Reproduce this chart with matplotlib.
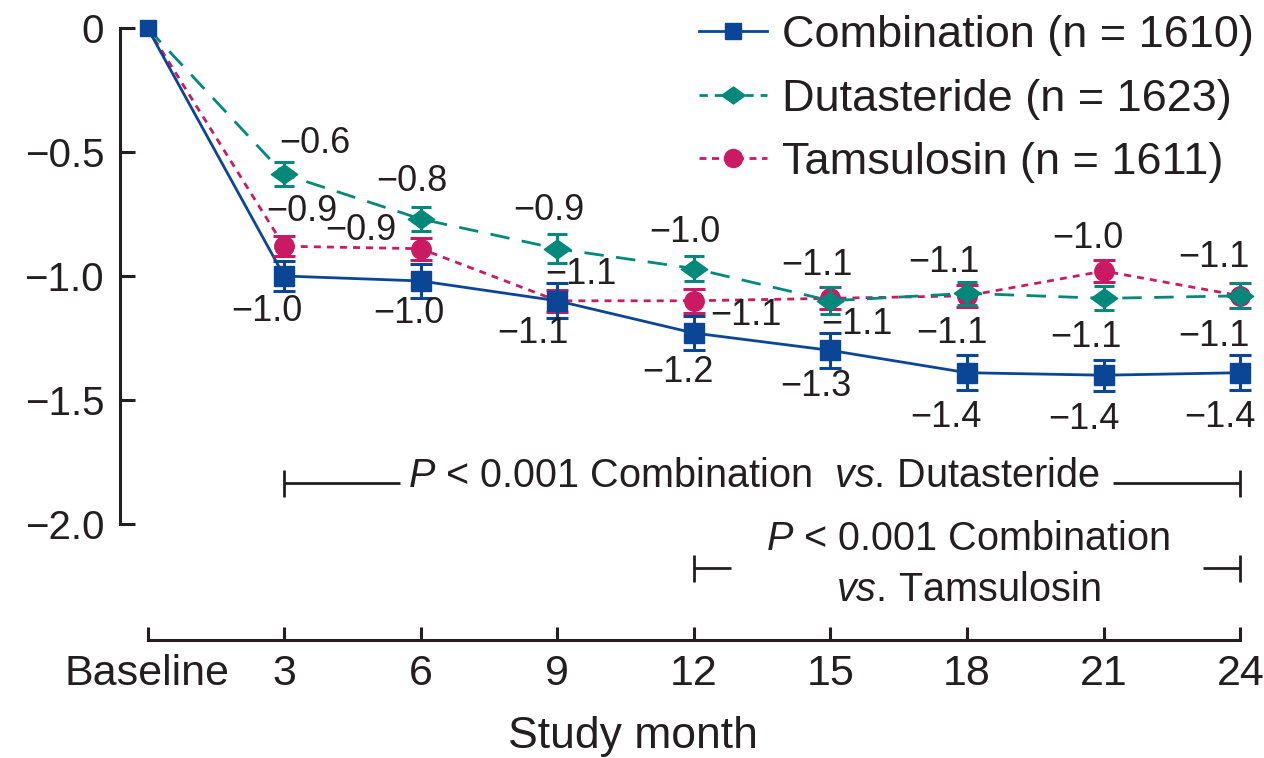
import matplotlib
matplotlib.use('Agg')
import matplotlib.pyplot as plt
from matplotlib.lines import Line2D
from matplotlib.path import Path

plt.rcParams['font.family'] = ['Liberation Sans', 'DejaVu Sans']
plt.rcParams['mathtext.fontset'] = 'custom'
plt.rcParams['mathtext.rm'] = 'Liberation Sans'
plt.rcParams['mathtext.it'] = 'Liberation Sans:italic'

# ---------------- data ----------------
months = ['Baseline', '3', '6', '9', '12', '15', '18', '21', '24']
combination = [0, -1.00, -1.02, -1.10, -1.23, -1.30, -1.39, -1.40, -1.39]
dutasteride = [0, -0.59, -0.77, -0.89, -0.97, -1.10, -1.07, -1.09, -1.08]
tamsulosin = [0, -0.88, -0.89, -1.10, -1.10, -1.09, -1.08, -0.98, -1.08]
comb_err = [0, 0.06, 0.07, 0.07, 0.07, 0.07, 0.07, 0.063, 0.07]
dut_err = [0, 0.048, 0.05, 0.058, 0.05, 0.054, 0.046, 0.048, 0.05]
tam_err = [0, 0.04, 0.045, 0.045, 0.048, 0.045, 0.045, 0.044, 0.05]
comb_labels = ['−1.0', '−1.0', '−1.1', '−1.2', '−1.3', '−1.4', '−1.4', '−1.4']
dut_labels = ['−0.6', '−0.8', '−0.9', '−1.0', '−1.1', '−1.1', '−1.1', '−1.1']
tam_labels = ['−0.9', '−0.9', '−1.1', '−1.1', '−1.1', '−1.1', '−1.0', '−1.1']
legend_labels = ['Combination (n = 1610)', 'Dutasteride (n = 1623)', 'Tamsulosin (n = 1611)']
ytick_vals = [0, -0.5, -1.0, -1.5, -2.0]
ytick_labels = ['0', '−0.5', '−1.0', '−1.5', '−2.0']

# label offsets in pixels (dx, dy downward)
comb_off = [(-17, 35), (-12, 33), (-24, 33), (-16, 39), (-15, 36), (-21, 45), (-20, 44), (-20, 45)]
dut_off = [(31, -31), (-9, -37), (-8, -38), (-9, -36), (-14, -35), (-23, -31), (-18, 39), (-26, -38)]
tam_off = [(18, -35), (-60, -18), (24, -26), (52, 15), (26, 26), (-15, 38), (-16, -33), (-26, 41)]

BLUE = '#0b4595'
TEAL = '#00897a'
PINK = '#c91a63'
BLACK = '#231f20'

W, H = 1264, 758
fig = plt.figure(figsize=(W / 100, H / 100), dpi=100)
ax = fig.add_axes([0, 0, 1, 1])
ax.patch.set_alpha(0)

# pixel <-> data layout
x0px, dxpx = 147.5, 136.6
y0px, dypx = 28.0, 248.0
ax.set_xlim((0 - x0px) / dxpx, (W - x0px) / dxpx)
ax.set_ylim((y0px - H) / dypx, y0px / dypx)

x = list(range(len(months)))

# lines
ax.plot(x, tamsulosin, color=PINK, lw=2.0, dashes=(2.5, 2.2), zorder=2)
ax.plot(x, dutasteride, color=TEAL, lw=2.0, dashes=(7, 4.5), zorder=2)
ax.plot(x, combination, color=BLUE, lw=2.0, zorder=2)

diamond = Path([(-1, 0), (0, 0.72), (1, 0), (0, -0.72), (-1, 0)],
               [Path.MOVETO, Path.LINETO, Path.LINETO, Path.LINETO, Path.CLOSEPOLY])

# error bars + markers (from month 3 on)
ax.errorbar(x[1:], tamsulosin[1:], yerr=tam_err[1:], fmt='none', ecolor=PINK,
            elinewidth=2.2, capsize=8, capthick=2.2, zorder=3)
ax.plot(x[1:], tamsulosin[1:], ls='none', marker='o', ms=14, color=PINK, zorder=3.1)
ax.errorbar(x[1:], dutasteride[1:], yerr=dut_err[1:], fmt='none', ecolor=TEAL,
            elinewidth=2.2, capsize=7.5, capthick=2.2, zorder=4)
ax.plot(x[1:], dutasteride[1:], ls='none', marker=diamond, ms=19, color=TEAL, zorder=4.1)
ax.errorbar(x[1:], combination[1:], yerr=comb_err[1:], fmt='none', ecolor=BLUE,
            elinewidth=2.2, capsize=8.2, capthick=2.2, zorder=5)
ax.plot(x[1:], combination[1:], ls='none', marker='s', ms=15, color=BLUE, zorder=5.1)
ax.plot(x[:1], combination[:1], ls='none', marker='s', ms=11, color=BLUE, zorder=5.1)

# value labels
for vals, labs, offs in ((combination, comb_labels, comb_off),
                         (dutasteride, dut_labels, dut_off),
                         (tamsulosin, tam_labels, tam_off)):
    for i, (lab, (dx, dy)) in enumerate(zip(labs, offs)):
        ax.annotate(lab, xy=(x[i + 1], vals[i + 1]), xytext=(dx, -dy),
                    textcoords='offset pixels', ha='center', va='center',
                    fontsize=26, color=BLACK, zorder=6)

# axes / spines
for s in ('top', 'right'):
    ax.spines[s].set_visible(False)
ax.spines['left'].set_position(('data', (120 - x0px) / dxpx))
ax.spines['left'].set_bounds(-2.0, 0)
ax.spines['bottom'].set_position(('data', (y0px - 640) / dypx))
ax.spines['bottom'].set_bounds(0, 8)
for s in ('left', 'bottom'):
    ax.spines[s].set_linewidth(2.2)
    ax.spines[s].set_color(BLACK)

ax.set_yticks(ytick_vals)
ax.set_yticklabels(ytick_labels)
ax.set_xticks(x)
ax.set_xticklabels(months)
ax.tick_params(axis='y', direction='in', length=11, width=2.2, pad=11.5,
               labelsize=29, colors=BLACK)
ax.tick_params(axis='x', direction='in', length=9.5, width=2.2, pad=10,
               labelsize=31, colors=BLACK)

ax.text((633 - x0px) / dxpx, (y0px - 748) / dypx, 'Study month', ha='center',
        va='baseline', fontsize=32, color=BLACK)

# P-value brackets
def bracket(y, segs, x_ends):
    for a, b in segs:
        ax.plot([a, b], [y, y], color=BLACK, lw=2.0, zorder=2, solid_capstyle='butt')
    h = 13.5 / dypx
    for xe in x_ends:
        ax.plot([xe, xe], [y - h, y + h], color=BLACK, lw=2.0, zorder=2, solid_capstyle='butt')

yb1 = (y0px - 483) / dypx
bracket(yb1, [(1, (400 - x0px) / dxpx), ((1113 - x0px) / dxpx, 8)], [1, 8])
ax.text((754 - x0px) / dxpx, (y0px - 476) / dypx,
        r'$\mathit{P}$ < 0.001 Combination  $\mathit{vs.}\,$Dutasteride',
        ha='center', va='center', fontsize=28.5, color=BLACK)

yb2 = (y0px - 568) / dypx
bracket(yb2, [(4, (731 - x0px) / dxpx), ((1203 - x0px) / dxpx, 8)], [4, 8])
ax.text((968 - x0px) / dxpx, (y0px - 539) / dypx,
        r'$\mathit{P}$ < 0.001 Combination', ha='center', va='center',
        fontsize=28.5, color=BLACK)
ax.text((968 - x0px) / dxpx, (y0px - 590) / dypx,
        r'$\mathit{vs.}\,$Tamsulosin', ha='center', va='center',
        fontsize=28.5, color=BLACK)

# legend
handles = [
    Line2D([], [], color=BLUE, lw=2.0, marker='s', ms=12),
    Line2D([], [], color=TEAL, lw=2.0, dashes=(3, 2.5), marker=diamond, ms=17),
    Line2D([], [], color=PINK, lw=2.0, dashes=(2.5, 2.0), marker='o', ms=13),
]
leg = fig.legend(handles, legend_labels, loc='upper left',
                 bbox_to_anchor=(699 / W, 1 - 15 / H), frameon=False,
                 fontsize=32.5, handlelength=1.5, handletextpad=0.33,
                 labelspacing=0.5, borderpad=0, borderaxespad=0)
for t in leg.get_texts():
    t.set_color(BLACK)

fig.savefig('out.png', dpi=100)
